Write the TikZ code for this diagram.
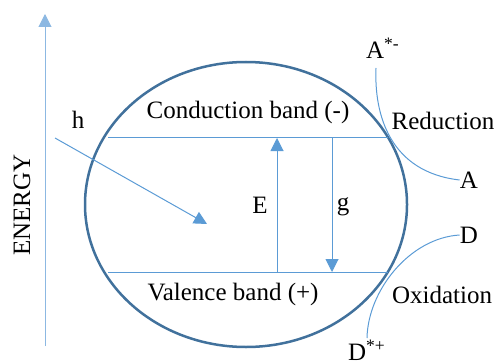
\documentclass[tikz,border=0pt]{standalone}
\usepackage{fontspec}
\setmainfont{Liberation Serif}
\usepackage{xcolor}
\usetikzlibrary{arrows.meta,positioning,calc,shapes.geometric}
\definecolor{cellblue}{RGB}{65,113,156}
\definecolor{lineblue}{RGB}{91,155,213}
\definecolor{axisblue}{RGB}{140,184,226}
\tikzset{
	arrow/.style={-{Triangle[length=6.5pt,width=6.5pt]}, line width=0.5pt, lineblue},
	thinline/.style={line width=0.5pt, lineblue},
	label/.style={font=\fontsize{12.5}{14}\selectfont, inner sep=0pt},
}

\begin{document}
\begin{tikzpicture}[x=0.5pt, y=-0.5pt,
	cellshape/.style={draw=cellblue, ellipse, line width=1.25pt,
		minimum width=161pt, minimum height=142.5pt, inner sep=0pt},
	]
	\useasboundingbox (0,0) rectangle (496,363);
	
	%% -- Semiconductor particle
	\node[cellshape] (cell) at (246,204.5) {};
	
	%% -- Energy axis
	\coordinate (axisbot) at (45,346);
	\coordinate (axistop) at (45,14);
	\draw[arrow, axisblue] (axisbot) -- (axistop);
	\node[label, rotate=90] (energy) at (22,205) {ENERGY};
	
	%% -- Band edges
	\coordinate (cbL) at (108,138);
	\coordinate (cbR) at (388,138);
	\coordinate (vbL) at (108,272);
	\coordinate (vbR) at (388,272);
	\draw[thinline] (cbL) -- (cbR);
	\draw[thinline] (vbL) -- (vbR);
	\node[label] (cb) at (248,112) {Conduction band (-)};
	\node[label] (vb) at (233,294) {Valence band (+)};
	
	%% -- Incoming light
	\coordinate (hstart) at (55,138);
	\coordinate (hend) at (207,224);
	\draw[arrow] (hstart) -- (hend);
	\node[label] (h) at (78,120) {h};
	
	%% -- Band gap arrows
	\draw[arrow] (277,272) -- (277,138);
	\draw[arrow] (332,138) -- (332,272);
	\node[label] (E) at (260,205) {E};
	\node[label] (g) at (343,207) {g};
	
	%% -- Reduction at the conduction band
	\node[label] (Aminus) at (383,48) {A\textsuperscript{*-}};
	\node[label] (A) at (469,180) {A};
	\node[label] (red) at (443,121) {Reduction};
	\draw[thinline] (376,68) .. controls (374,115) and (390,172) .. (A.west);
	
	%% -- Oxidation at the valence band
	\node[label] (D) at (469,235) {D};
	\node[label] (Dplus) at (367,350) {D\textsuperscript{*+}};
	\node[label] (ox) at (442,295) {Oxidation};
	\draw[thinline] (D.west) .. controls (410,238) and (368,290) .. (367,338);
	
\end{tikzpicture}
\end{document}
